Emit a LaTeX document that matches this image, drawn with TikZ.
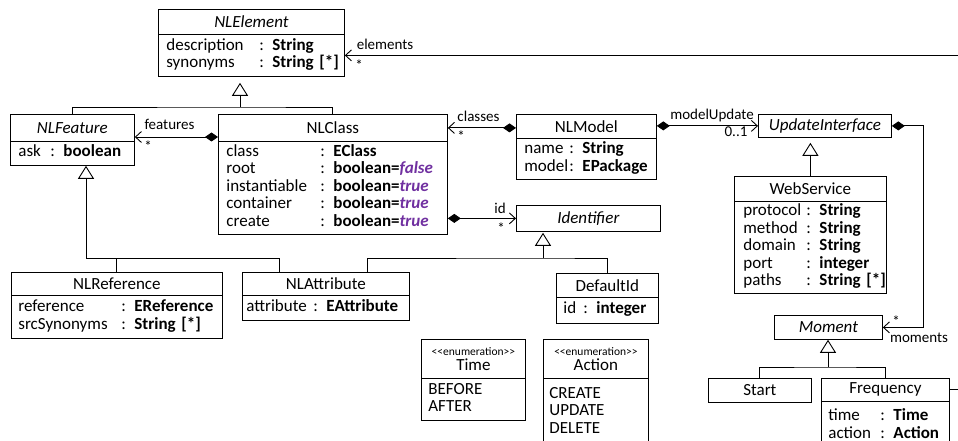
\documentclass[tikz,border=0pt]{standalone}
\usepackage{fontspec}
\setmainfont{Carlito}
\usetikzlibrary{arrows.meta,calc}
\definecolor{litpurple}{HTML}{7030A0}
\newcommand{\litval}[1]{\textbf{\textit{\color{litpurple}#1}}}
\newcommand{\stereo}[1]{{\fontsize{11.5}{12}\selectfont <{}<#1>{}>}}
\begin{document}
\begin{tikzpicture}[
  x=1pt, y=-1pt,
  hd/.style={draw, line width=0.8pt, anchor=north west, inner sep=0pt,
    font=\fontsize{17}{17.5}\selectfont},
  bd/.style={draw, line width=0.8pt, anchor=north west, inner ysep=0pt,
    align=left, font=\fontsize{17}{17.5}\selectfont},
  lbl/.style={font=\fontsize{15}{16}\selectfont, inner sep=0pt, anchor=base},
  conn/.style={line width=0.9pt},
  gentip/.style={conn, -{Triangle[open, length=13pt, width=16pt, fill=white]}},
  assoc/.style={conn, -{Straight Barb[length=6pt, width=11pt]}},
  compo/.style={conn, {Diamond[length=13pt, width=9pt]}-{Straight Barb[length=6pt, width=11pt]}},
]
\path[use as bounding box] (0,0) rectangle (958,441);
\clip (0,0) rectangle (958,441);

% ---- classes ----
\node[hd, minimum width=186pt, minimum height=25pt] (elemH) at (158,9) {\textit{NLElement}};
\node[bd, minimum width=186pt, minimum height=42pt, inner xsep=8pt, text width=170pt] (elemB) at (158,34)
  {\begin{tabular}{@{}p{93pt}@{}l@{}}description & : \textbf{String}\\ synonyms & : \textbf{String [*]}\end{tabular}};

\node[hd, minimum width=124pt, minimum height=27pt] (featH) at (10,114) {\textit{NLFeature}};
\node[bd, minimum width=124pt, minimum height=24pt, inner xsep=8pt, text width=108pt] (featB) at (10,141)
  {\begin{tabular}{@{}p{32pt}@{}l@{}}ask & : \textbf{boolean}\end{tabular}};

\node[hd, minimum width=229pt, minimum height=27pt] (clsH) at (218,114) {NLClass};
\node[bd, minimum width=229pt, minimum height=93pt, inner xsep=8pt, text width=213pt] (clsB) at (218,141)
  {\begin{tabular}{@{}p{94pt}@{}l@{}}
   class & : \textbf{EClass}\\
   root & : \textbf{boolean=}\litval{false}\\
   instantiable & : \textbf{boolean=}\litval{true}\\
   container & : \textbf{boolean=}\litval{true}\\
   create & : \textbf{boolean=}\litval{true}
  \end{tabular}};

\node[hd, minimum width=140pt, minimum height=24pt] (mdlH) at (516,114) {NLModel};
\node[bd, minimum width=140pt, minimum height=41pt, inner xsep=8pt, text width=124pt] (mdlB) at (516,138)
  {\begin{tabular}{@{}p{45pt}@{}l@{}}name & : \textbf{String}\\ model & : \textbf{EPackage}\end{tabular}};

\node[hd, minimum width=133pt, minimum height=23pt] (updH) at (758,114) {\textit{UpdateInterface}};

\node[hd, minimum width=152pt, minimum height=25pt] (webH) at (734,176) {WebService};
\node[bd, minimum width=152pt, minimum height=92pt, inner xsep=9pt, text width=134pt] (webB) at (734,201)
  {\begin{tabular}{@{}p{63pt}@{}l@{}}
   protocol & : \textbf{String}\\
   method & : \textbf{String}\\
   domain & : \textbf{String}\\
   port & : \textbf{integer}\\
   paths & : \textbf{String [*]}
  \end{tabular}};

\node[hd, minimum width=144pt, minimum height=26pt] (idH) at (516,205) {\textit{Identifier}};

\node[hd, minimum width=211pt, minimum height=23pt] (refH) at (11,272) {NLReference};
\node[bd, minimum width=211pt, minimum height=43pt, inner xsep=7pt, text width=197pt] (refB) at (11,295)
  {\begin{tabular}{@{}p{103pt}@{}l@{}}reference & : \textbf{EReference}\\ srcSynonyms & : \textbf{String [*]}\end{tabular}};

\node[hd, minimum width=167pt, minimum height=23pt] (attrH) at (242,272) {NLAttribute};
\node[bd, minimum width=167pt, minimum height=25pt, inner xsep=4pt, text width=159pt] (attrB) at (242,295)
  {\begin{tabular}{@{}p{67pt}@{}l@{}}attribute & : \textbf{EAttribute}\end{tabular}};

\node[hd, minimum width=102pt, minimum height=24pt] (defH) at (556,273) {DefaultId};
\node[bd, minimum width=102pt, minimum height=26pt, inner xsep=7pt, text width=88pt] (defB) at (556,297)
  {\begin{tabular}{@{}p{20pt}@{}l@{}}id & : \textbf{integer}\end{tabular}};

% ---- enumerations ----
\node[hd, minimum width=104pt, minimum height=39pt, align=center] (timeH) at (421,339) {\stereo{enumeration}\\[-2.5pt]Time};
\node[bd, minimum width=104pt, minimum height=42pt, inner xsep=7pt, text width=90pt] (timeB) at (421,378)
  {\begin{tabular}{@{}l@{}}BEFORE\\ AFTER\end{tabular}};

\node[hd, minimum width=105pt, minimum height=39pt, align=center] (actH) at (543,339) {\stereo{enumeration}\\[-2.5pt]Action};
\node[bd, minimum width=105pt, minimum height=68pt, inner xsep=6pt, text width=93pt] (actB) at (543,378)
  {\begin{tabular}{@{}l@{}}CREATE\\ UPDATE\\ DELETE\end{tabular}};

% ---- moments ----
\node[hd, minimum width=108pt, minimum height=24pt] (momH) at (774,315) {\textit{Moment}};
\node[hd, minimum width=103pt, minimum height=24pt] (startH) at (708,378) {Start};
\node[hd, minimum width=128pt, minimum height=23pt] (freqH) at (821,378) {Frequency};
\node[bd, minimum width=128pt, minimum height=49pt, inner xsep=7pt, text width=114pt] (freqB) at (821,401)
  {\begin{tabular}{@{}p{52pt}@{}l@{}}time & : \textbf{Time}\\ action & : \textbf{Action}\end{tabular}};

% ---- helper coordinates ----
\coordinate (offR) at (975,0);
\coordinate (yFeat) at (0,137);
\coordinate (xMom) at (923,0);
\coordinate (j1) at (240,107);
\coordinate (j2) at (86,258);
\coordinate (xA) at (279,0);
\coordinate (j3) at (543,258);
\coordinate (xB) at (367,0);
\coordinate (j5) at (828,367);

% ---- associations ----
\draw[assoc] (freqH.east) -- (offR |- freqH.east) |- (elemB.east);
\draw[compo] (clsH.west |- yFeat) -- (featH.east |- yFeat);
\draw[compo] (mdlH.west |- clsH.east) -- (clsH.east);
\draw[compo] (mdlH.east |- updH.west) -- (updH.west);
\draw[compo] (clsB.east |- idH.west) -- (idH.west);
\draw[compo] (updH.east) -| (xMom |- momH.east) -- (momH.east);

% ---- generalizations ----
\draw[conn] (featH.north) |- (j1) -| (clsH.north);
\draw[gentip] (j1) -- ($(elemB.south -| j1)+(0,6)$);

\draw[gentip] (j2) -- (featB.south -| j2);
\draw[conn] (j2) -| (attrH.north -| xA);
\draw[conn] (refH.north) -- (refH.north |- j2);

\draw[gentip] (j3) -- ($(idH.south -| j3)+(0,1)$);
\draw[conn] (attrH.north -| xB) |- (j3) -| (defH.north);

\draw[gentip] (webH.north) -- ($(updH.south -| webH.north)+(0,5)$);

\draw[gentip] (j5) -- (momH.south -| j5);
\draw[conn] (startH.north) |- (j5) -| (freqH.north);

% ---- role names and multiplicities ----
\node[lbl] (lElem) at (385,50) {elements};
\node[lbl] (lElemM) at (359,70.5) {*};
\node[lbl] (lFeat) at (169.5,130) {features};
\node[lbl] (lFeatM) at (148,151.5) {*};
\node[lbl] (lCls) at (478.5,122) {classes};
\node[lbl] (lClsM) at (461,141.5) {*};
\node[lbl] (lUpd) at (712,120) {modelUpdate};
\node[lbl] (lUpdM) at (736,137) {0..1};
\node[lbl] (lId) at (500,213) {id};
\node[lbl] (lIdM) at (501,233.5) {*};
\node[lbl] (lMomM) at (896,326.5) {*};
\node[lbl] (lMom) at (919,342) {moments};
\end{tikzpicture}
\end{document}
